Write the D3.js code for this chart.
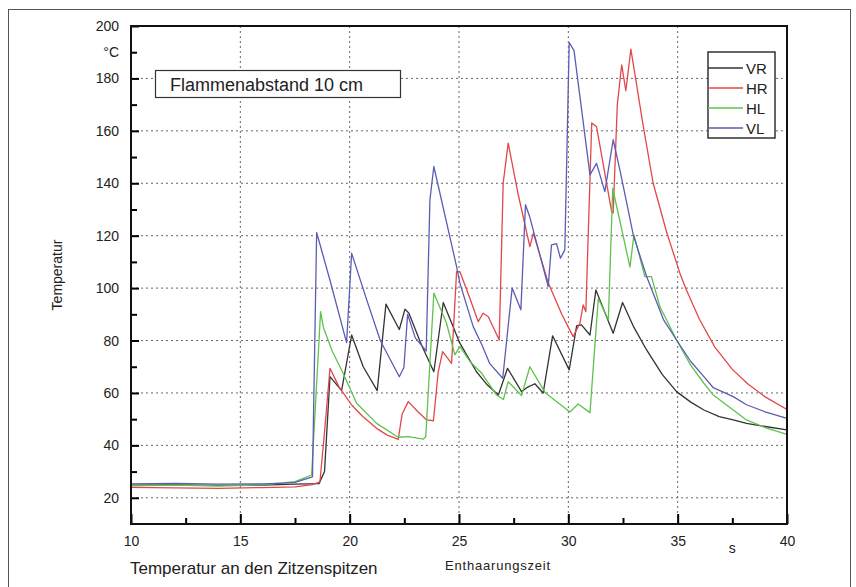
<!DOCTYPE html>
<html>
<head>
<meta charset="utf-8">
<script src="https://cdn.jsdelivr.net/npm/d3@7.9.0/dist/d3.min.js"></script>
<style>
    body { margin: 0; background: #fff; }
    svg { display: block; font-family: "Liberation Sans", Arial, sans-serif; }
</style>
</head>
<body>
<svg id="chart" width="856" height="587"></svg>
<script>
// time [s], temperature [°C]
const vrData = [[10,24.8],[12,24.9],[14,24.7],[16,24.8],[17.5,25.2],[18.6,25.4],[18.85,30],[19.1,66.2],[19.63,60.9],[20.09,82.1],[20.62,70],[21.26,60.9],[21.66,93.9],[22.27,84.2],[22.53,92],[22.71,90.4],[23.3,78],[23.85,68.1],[24.28,94.5],[25.04,79],[25.8,68.1],[26.3,63],[26.8,59.2],[27.22,69.4],[27.86,60.5],[28.1,62],[28.47,63.5],[28.85,60],[29.28,81.8],[30.04,68.8],[30.38,85.6],[30.6,86],[30.99,82.1],[31.26,99.3],[32.05,82.8],[32.48,94.5],[33.0,85],[33.58,76.4],[34.3,67],[34.95,60.5],[35.6,56.5],[36.2,53.5],[36.9,51],[37.54,49.7],[38.15,48.4],[39,47.2],[40,45.9]];

const hrData = [[10,24],[12,23.8],[14,23.6],[16,23.9],[17.5,24.2],[18.3,25],[18.64,26.1],[18.85,45],[19.1,69.4],[19.5,62.5],[20.09,55.4],[20.6,51],[21.23,46.5],[21.7,44],[22.22,42.3],[22.4,52],[22.68,56.7],[23.1,53],[23.52,49.7],[23.83,49.4],[24.05,68],[24.25,75.8],[24.66,71.3],[24.89,106.3],[25.04,106.3],[25.5,96],[25.88,87.2],[26.1,90.4],[26.34,89.1],[26.84,80.2],[27.02,140],[27.25,155.3],[27.7,136],[28.24,115.8],[28.4,121],[29.08,102],[29.7,90],[30.22,81.5],[30.53,86.6],[30.68,93.6],[30.8,91],[31.07,163],[31.29,161.6],[31.98,129.2],[32.05,128.6],[32.24,170],[32.44,185.2],[32.63,175.3],[32.86,191.2],[33.43,161.6],[33.88,140],[34.49,121.5],[35.1,105.7],[35.4,99.3],[36.0,88],[36.7,77.5],[37.5,69],[38.2,63.5],[39,58.5],[40,53.7]];

const hlData = [[10,24.6],[12,24.8],[14,24.5],[16,24.9],[17,25.8],[17.5,26.2],[18.26,28.7],[18.67,91],[18.8,85],[19.2,76],[19.7,67.5],[20.32,56.1],[21.23,48.4],[22.22,43.1],[22.68,43.3],[23.37,42.4],[23.48,43.3],[23.85,98.1],[24.43,86.6],[24.81,74.5],[25.04,77.7],[25.5,72],[26.04,67.5],[26.72,59.2],[27.03,57.5],[27.25,64.3],[27.86,59],[28.24,70],[28.93,60.2],[30.07,52.7],[30.45,55.8],[30.99,52.5],[31.37,96],[31.83,87.9],[32.03,138],[32.82,108],[33.0,120.3],[33.5,104.4],[33.8,104.4],[34.19,92.9],[34.49,87.9],[34.95,80.2],[35.6,70.5],[36.2,63.7],[36.63,59.2],[37.54,53.5],[38.15,49.7],[39,46.8],[40,44.2]];

const vlData = [[10,25.3],[12,25.5],[14,25.2],[16,25.3],[17,25.6],[17.5,25.9],[18.3,28],[18.49,121.2],[19.1,103],[19.86,79.2],[20.09,113.3],[20.78,95.5],[21.4,80],[22.27,66.2],[22.48,69.7],[22.65,90],[23.0,81],[23.5,76],[23.67,133.7],[23.85,146.4],[24.89,108.2],[25.04,101.9],[25.65,85.3],[26.04,78.5],[26.4,71.3],[27.0,65.6],[27.43,100],[27.83,91.7],[28.04,131.8],[28.24,127],[29.08,100.6],[29.23,116.5],[29.46,117],[29.64,111.4],[29.84,114.6],[30.04,193.7],[30.26,190.6],[30.99,143.2],[31.29,147.6],[31.67,136.8],[32.05,156.6],[32.36,145],[32.97,120.3],[33.58,104.4],[34.35,88],[34.95,80.2],[35.6,72],[36.2,66.2],[36.63,62],[37.54,58.6],[38.15,55.5],[39,52.8],[40,50.3]];

const seriesNames = ["VR", "HR", "HL", "VL"];
const seriesColors = ["#333333", "#e2474a", "#5ec24c", "#5a5db5"];
const seriesData = [vrData, hrData, hlData, vlData];

const xTicks = [10, 15, 20, 25, 30, 35, 40];
const xMinor = [12.5, 17.5, 22.5, 27.5, 32.5, 37.5];
const yTicks = [20, 40, 60, 80, 100, 120, 140, 160, 180, 200];
const yMinor = [30, 50, 70, 90, 110, 130, 150, 170, 190];

const svg = d3.select("#chart");

const x = d3.scaleLinear().domain([10, 40]).range([131, 787]);
const y = d3.scaleLinear().domain([10, 200]).range([524, 26]);

// outer frame
svg.append("rect")
    .attr("x", 8.5).attr("y", 9.5)
    .attr("width", 842).attr("height", 600)
    .attr("fill", "none")
    .attr("stroke", "#555")
    .attr("stroke-width", 1);

// grid
svg.append("g")
    .selectAll("line")
    .data(d3.range(15, 40, 5))
    .join("line")
    .attr("x1", d => x(d)).attr("x2", d => x(d))
    .attr("y1", y(200)).attr("y2", y(10))
    .attr("stroke", "#666").attr("stroke-width", 1)
    .attr("stroke-dasharray", "2,3");

svg.append("g")
    .selectAll("line")
    .data(d3.range(20, 200, 20))
    .join("line")
    .attr("x1", x(10)).attr("x2", x(40))
    .attr("y1", d => y(d)).attr("y2", d => y(d))
    .attr("stroke", "#666").attr("stroke-width", 1)
    .attr("stroke-dasharray", "2,3");

// curves
const line = d3.line()
    .x(d => x(d[0]))
    .y(d => y(d[1]));

svg.append("g")
    .selectAll("path")
    .data(seriesData)
    .join("path")
    .attr("d", line)
    .attr("fill", "none")
    .attr("stroke", (d, i) => seriesColors[i])
    .attr("stroke-width", 1.3)
    .attr("stroke-linejoin", "round");

// axes (ticks point inward)
svg.append("g")
    .attr("transform", `translate(0,${y(10)})`)
    .call(d3.axisBottom(x).tickValues(xTicks).tickSize(-10).tickPadding(12).tickFormat(d3.format("d")));
svg.append("g")
    .attr("transform", `translate(0,${y(10)})`)
    .call(d3.axisBottom(x).tickValues(xMinor).tickSize(-6).tickFormat(""));

svg.append("g")
    .attr("transform", `translate(${x(10)},0)`)
    .call(d3.axisLeft(y).tickValues(yTicks).tickSize(-8).tickPadding(12).tickFormat(d3.format("d")));
svg.append("g")
    .attr("transform", `translate(${x(10)},0)`)
    .call(d3.axisLeft(y).tickValues(yMinor).tickSize(-6).tickFormat(""));

svg.selectAll(".domain").remove();
svg.selectAll(".tick line").attr("stroke", "#000").attr("stroke-width", 2);
svg.selectAll(".tick text").attr("font-size", 14).attr("fill", "#222")
    .attr("font-family", "'Liberation Sans', Arial, sans-serif");

// plot frame
svg.append("rect")
    .attr("x", x(10)).attr("y", y(200))
    .attr("width", x(40) - x(10)).attr("height", y(10) - y(200))
    .attr("fill", "none")
    .attr("stroke", "#111")
    .attr("stroke-width", 2);

// unit labels
svg.append("text")
    .attr("x", x(10) - 12).attr("y", y(190) + 5)
    .attr("text-anchor", "end")
    .attr("font-size", 14).attr("fill", "#222")
    .text("°C");

svg.append("text")
    .attr("x", x(37.5)).attr("y", y(10) + 29)
    .attr("text-anchor", "middle")
    .attr("font-size", 14).attr("fill", "#222")
    .text("s");

// axis titles
svg.append("text")
    .attr("transform", `translate(62,${y(105)}) rotate(-90)`)
    .attr("text-anchor", "middle")
    .attr("font-size", 14).attr("fill", "#222")
    .text("Temperatur");

svg.append("text")
    .attr("x", 130).attr("y", 574)
    .attr("font-size", 17).attr("fill", "#222")
    .text("Temperatur an den Zitzenspitzen");

svg.append("text")
    .attr("x", 445).attr("y", 570)
    .attr("font-size", 13).attr("fill", "#222")
    .attr("letter-spacing", 0.8)
    .text("Enthaarungszeit");

// title box
svg.append("rect")
    .attr("x", 155.5).attr("y", 70.5)
    .attr("width", 245).attr("height", 27)
    .attr("fill", "#fff")
    .attr("stroke", "#333").attr("stroke-width", 1.2);

svg.append("text")
    .attr("x", 170).attr("y", 90.5)
    .attr("font-size", 18).attr("fill", "#222")
    .text("Flammenabstand 10 cm");

// legend
const legend = svg.append("g").attr("transform", "translate(708,52)");
legend.append("rect")
    .attr("width", 67).attr("height", 86)
    .attr("fill", "#fff")
    .attr("stroke", "#333").attr("stroke-width", 1.5);

const items = legend.selectAll(".item")
    .data(seriesNames)
    .join("g")
    .attr("class", "item")
    .attr("transform", (d, i) => `translate(0,${16 + i * 20})`);

items.append("line")
    .attr("x1", 0).attr("x2", 35)
    .attr("stroke", (d, i) => seriesColors[i])
    .attr("stroke-width", 1.3);

items.append("text")
    .attr("x", 38).attr("y", 5.5)
    .attr("font-size", 15).attr("fill", "#222")
    .text(d => d);
</script>
</body>
</html>
